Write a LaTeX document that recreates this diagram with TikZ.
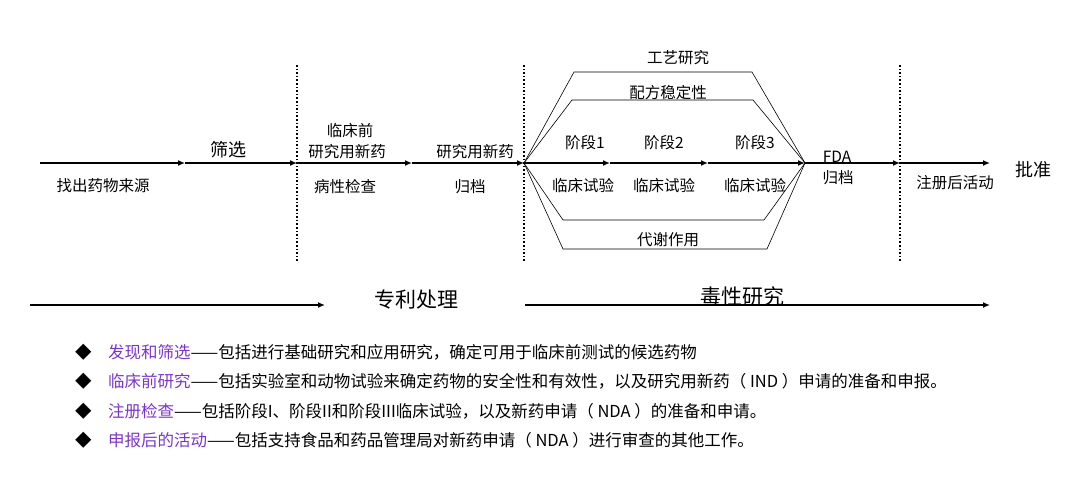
\documentclass[tikz,border=0pt]{standalone}
\usepackage{fontspec}
\setmainfont{Noto Sans CJK SC}
\usetikzlibrary{arrows.meta}
\definecolor{pur}{HTML}{7B35C9}
\begin{document}
\begin{tikzpicture}[x=1pt,y=-1pt,
  lab/.style={font=\fontsize{15.5}{17}\selectfont,inner sep=0pt},
  seg/.style={line width=1.8pt,-{Latex[length=7pt,width=6pt]}},
  thin/.style={line width=0.6pt},
  dots/.style={line width=1.6pt,dash pattern=on 1.6pt off 2pt},
  big/.style={font=\fontsize{21}{23}\selectfont,inner sep=0pt},
  bul/.style={font=\fontsize{16.5}{18}\selectfont,inner sep=0pt,anchor=west}]
\useasboundingbox (0,0) rectangle (1080,479);
\foreach \n/\x in {p0/40,p1/185,p2/297,p3/412,p4/524,p5/610,p6/708,p7/805,p8/900,p9/990}
  \coordinate (\n) at (\x,163);
\foreach \a/\b in {p0/p1,p1/p2,p2/p3,p3/p4,p4/p5,p5/p6,p6/p7,p7/p8,p8/p9}
  \draw[seg] (\a) -- (\b);
\foreach \x in {297,524,900} \draw[dots] (\x,65) -- (\x,262);
\coordinate (h1) at (574,72); \coordinate (h2) at (752,72);
\coordinate (h3) at (572,100); \coordinate (h4) at (753,100);
\coordinate (h5) at (563,220); \coordinate (h6) at (764,220);
\coordinate (h7) at (563,249); \coordinate (h8) at (767,249);
\draw[thin] (p4) -- (h1) -- (h2) -- (p7);
\draw[thin] (p4) -- (h3) -- (h4) -- (p7);
\draw[thin] (p4) -- (h5) -- (h6) -- (p7);
\draw[thin] (p4) -- (h7) -- (h8) -- (p7);
\node[lab] (t1) at (678,58) {工艺研究};
\node[lab] (t2) at (668,93) {配方稳定性};
\node[lab] (t3) at (668,240) {代谢作用};
\node[lab] (s1) at (585,143) {阶段1};
\node[lab] (s2) at (664,143) {阶段2};
\node[lab] (s3) at (755,143) {阶段3};
\node[lab] (c1) at (583,186) {临床试验};
\node[lab] (c2) at (664,186) {临床试验};
\node[lab] (c3) at (755,186) {临床试验};
\node[lab] (f1) at (837,157) {FDA};
\node[lab] (f2) at (838,178) {归档};
\node[lab] (pa) at (955,183) {注册后活动};
\node[lab,font=\fontsize{18}{20}\selectfont] (pz) at (1033,170) {批准};
\node[lab] (zc) at (103,186) {找出药物来源};
\node[lab,font=\fontsize{18}{20}\selectfont] (sx) at (228,150) {筛选};
\node[lab] (lc) at (350,131) {临床前};
\node[lab] (ly) at (347,152) {研究用新药};
\node[lab] (bx) at (345,187) {病性检查};
\node[lab] (yy) at (475,152) {研究用新药};
\node[lab] (gd) at (470,187) {归档};
\coordinate (b0) at (30,305); \coordinate (b1) at (325,305);
\coordinate (b2) at (525,305); \coordinate (b3) at (990,305);
\draw[seg] (b0) -- (b1);
\draw[seg] (b2) -- (b3);
\node[big] (zl) at (416,300) {专利处理};
\node[big] (dx) at (742,296) {毒性研究};
\foreach \y/\h/\t [count=\i] in {
 352/发现和筛选/——包括进行基础研究和应用研究，确定可用于临床前测试的候选药物,
 381/临床前研究/——包括实验室和动物试验来确定药物的安全性和有效性，以及研究用新药（ IND ）申请的准备和申报。,
 411/注册检查/——包括阶段I、阶段II和阶段III临床试验，以及新药申请（ NDA ）的准备和申请。,
 440/申报后的活动/——包括支持食品和药品管理局对新药申请（ NDA ）进行审查的其他工作。}{
  \node[bul] (m\i) at (75,\y) {◆};
  \node[bul] (q\i) at (108,\y) {\textcolor{pur}{\h}\t};
}
\end{tikzpicture}
\end{document}
